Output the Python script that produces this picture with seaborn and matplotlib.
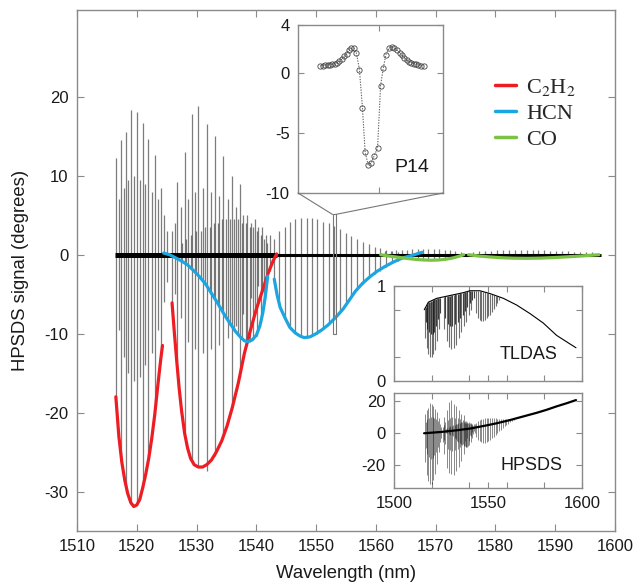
import numpy as np
import matplotlib
matplotlib.use("Agg")
import matplotlib.pyplot as plt
import seaborn as sns
from matplotlib.lines import Line2D
from matplotlib.patches import Rectangle, ConnectionPatch

# ---------------- data ----------------
# C2H2 R-branch lines (position nm, positive peak, negative peak) in degrees
c2h2_r_pos = [1516.5, 1516.95, 1517.4, 1517.8, 1518.2, 1518.6, 1519.0, 1519.5, 1520.0, 1520.5,
              1521.0, 1521.45, 1521.9, 1522.5, 1523.1, 1523.6, 1524.1, 1524.6, 1525.1]
c2h2_r_up = [12.2, 7.0, 14.5, 8.5, 15.6, 9.5, 18.3, 10.0, 18.1, 9.5,
             16.7, 9.0, 14.6, 8.0, 12.6, 7.0, 8.5, 5.0, 3.0]
c2h2_r_dn = [-18.0, -9.5, -26.0, -13.0, -30.0, -15.0, -31.7, -16.0, -31.6, -15.5,
             -29.5, -14.0, -26.0, -12.5, -19.5, -9.5, -12.5, -6.0, -3.5]
# C2H2 P-branch lines
c2h2_p_pos = [1525.9, 1526.35, 1526.7, 1527.35, 1528.0, 1528.6, 1529.2, 1529.75, 1530.3, 1531.0,
              1531.7, 1532.4, 1533.1, 1533.8, 1534.5, 1535.2, 1535.9, 1536.55, 1537.2, 1537.8,
              1538.4, 1539.05, 1539.7, 1540.35, 1541.0, 1541.65, 1542.3]
c2h2_p_up = [3.0, 4.0, 9.2, 6.0, 13.0, 7.0, 17.8, 8.0, 18.9, 8.5,
             16.5, 8.0, 15.0, 7.5, 12.5, 7.0, 10.0, 6.0, 9.0, 5.0,
             5.0, 4.0, 4.5, 3.5, 3.5, 2.5, 2.5]
c2h2_p_dn = [-6.1, -5.0, -13.6, -8.0, -22.5, -11.0, -26.2, -12.0, -26.9, -12.5,
             -27.4, -12.0, -25.5, -11.5, -23.0, -10.5, -19.5, -9.0, -15.5, -7.5,
             -11.2, -5.5, -7.5, -4.0, -4.7, -2.5, -2.0]
# HCN R-branch lines
hcn_r_pos = [1527.5, 1528.3, 1529.0, 1529.9, 1530.7, 1531.4, 1532.2, 1532.9, 1533.6, 1534.2, 1534.9,
             1535.6, 1536.3, 1537.0, 1537.6, 1538.2, 1538.9, 1539.5, 1540.1, 1540.7, 1541.3, 1541.8]
hcn_r_up = [1.5, 2.0, 2.5, 3.0, 3.0, 3.5, 3.5, 4.0, 4.0, 4.5, 4.5,
            4.5, 4.5, 4.5, 4.0, 4.0, 3.5, 3.5, 3.0, 2.5, 2.0, 1.5]
hcn_r_dn = [-0.7, -1.2, -1.6, -2.3, -2.9, -3.6, -4.6, -5.5, -6.4, -7.1, -7.9,
            -8.7, -9.5, -10.2, -10.6, -11.0, -11.0, -10.8, -10.3, -8.5, -6.2, -3.5]
# HCN P-branch lines
hcn_p_pos = [1543.0, 1543.8, 1544.8, 1545.6, 1546.5, 1547.5, 1548.4, 1549.3, 1550.1, 1551.2, 1552.1, 1553.0,
             1554.0, 1555.0, 1555.9, 1556.8, 1557.8, 1558.8, 1559.8, 1560.7, 1561.7, 1562.7, 1563.7]
hcn_p_up = [2.0, 3.0, 3.5, 4.2, 4.5, 4.6, 4.6, 4.6, 4.5, 4.2, 4.0, 3.6,
            3.2, 2.8, 2.4, 2.0, 1.6, 1.3, 1.0, 0.8, 0.6, 0.5, 0.4]
hcn_p_dn = [-3.1, -6.2, -7.9, -9.0, -9.9, -10.4, -10.5, -10.3, -10.0, -9.4, -8.8, -8.0,
            -7.3, -6.3, -5.3, -4.5, -3.7, -3.0, -2.5, -2.0, -1.5, -1.1, -0.8]
# CO lines
co_pos = [1561.5, 1562.5, 1563.4, 1564.3, 1565.2, 1566.1, 1567.0, 1567.9, 1568.8, 1569.7, 1570.6, 1571.5,
          1572.4, 1573.3, 1574.2, 1576.2, 1577.2, 1578.2, 1579.2, 1580.2, 1581.2, 1582.2, 1583.2, 1584.2,
          1585.2, 1586.2, 1587.2, 1588.2, 1589.2, 1590.2, 1591.2, 1592.2, 1593.2, 1594.2, 1595.2, 1596.2]
co_up = [0.5, 0.5, 0.6, 0.6, 0.6, 0.7, 0.7, 0.7, 0.7, 0.7, 0.7, 0.6,
         0.6, 0.5, 0.4, 0.4, 0.5, 0.5, 0.5, 0.6, 0.6, 0.6, 0.6, 0.6,
         0.6, 0.6, 0.6, 0.6, 0.5, 0.5, 0.5, 0.5, 0.4, 0.4, 0.4, 0.3]
co_dn = [-0.2, -0.3, -0.35, -0.4, -0.5, -0.55, -0.6, -0.65, -0.7, -0.7, -0.7, -0.65,
         -0.55, -0.4, -0.2, -0.1, -0.2, -0.25, -0.3, -0.35, -0.4, -0.42, -0.45, -0.47,
         -0.47, -0.47, -0.45, -0.43, -0.4, -0.37, -0.33, -0.28, -0.23, -0.18, -0.12, -0.08]

# baseline of the HPSDS trace (noisy part, then quiet part)
baseline_x = [1516.4, 1543.5, 1597.6]
baseline_y = [0.0, 0.0, 0.0]

# envelope fits
red1_x = [1516.5, 1517.0, 1517.5, 1518.0, 1518.5, 1519.0, 1519.5, 1520.0, 1520.5, 1521.0, 1521.5,
          1522.0, 1522.5, 1523.0, 1523.5, 1524.0, 1524.3]
red1_y = [-18.0, -23.0, -26.3, -28.6, -30.3, -31.4, -31.9, -31.7, -31.0, -29.5, -27.8,
          -25.8, -23.3, -20.3, -16.7, -13.3, -11.5]
red2_x = [1525.9, 1526.3, 1526.7, 1527.1, 1527.5, 1528.0, 1528.5, 1529.0, 1529.6, 1530.3, 1531.0,
          1531.7, 1532.5, 1533.3, 1534.2, 1535.1, 1536.0, 1537.0, 1538.0, 1539.0, 1540.0, 1541.0,
          1542.0, 1542.8, 1543.4]
red2_y = [-6.1, -10.0, -13.6, -17.0, -19.8, -22.6, -24.5, -25.8, -26.6, -26.9, -26.9,
          -26.6, -26.0, -25.0, -23.6, -21.7, -19.3, -16.2, -12.5, -9.6, -6.9, -4.6,
          -2.3, -0.8, 0.1]
blue1_x = [1524.5, 1525.5, 1526.5, 1527.5, 1528.5, 1529.5, 1530.5, 1531.5, 1532.5, 1533.5, 1534.5,
           1535.5, 1536.5, 1537.3, 1538.0, 1538.6, 1539.3, 1540.0, 1540.6, 1541.1, 1541.5, 1541.9]
blue1_y = [0.2, 0.0, -0.4, -0.8, -1.3, -2.0, -2.8, -3.7, -4.9, -6.1, -7.4,
           -8.6, -9.7, -10.4, -10.9, -11.0, -10.8, -10.2, -9.0, -7.3, -5.3, -2.7]
blue2_x = [1543.0, 1543.5, 1544.0, 1544.8, 1545.6, 1546.5, 1547.3, 1548.0, 1549.0, 1550.0, 1551.0,
           1552.0, 1553.2, 1554.5, 1555.5, 1556.6, 1557.8, 1559.0, 1560.2, 1561.5, 1563.0, 1564.5,
           1566.0, 1567.7]
blue2_y = [-3.1, -5.2, -6.7, -8.0, -9.2, -9.9, -10.3, -10.5, -10.4, -10.0, -9.5,
           -8.9, -8.0, -6.9, -5.8, -4.6, -3.6, -2.8, -2.1, -1.5, -0.9, -0.4,
           -0.1, 0.3]
green1_x = [1560.8, 1562.0, 1563.5, 1565.0, 1566.5, 1568.0, 1569.3, 1570.5, 1571.7, 1572.8, 1573.8, 1574.7]
green1_y = [0.0, -0.15, -0.3, -0.45, -0.58, -0.67, -0.7, -0.67, -0.57, -0.42, -0.22, 0.0]
green2_x = [1575.5, 1577.0, 1579.0, 1581.0, 1583.0, 1585.3, 1587.5, 1589.5, 1591.5, 1593.5, 1595.5, 1597.3]
green2_y = [0.0, -0.15, -0.28, -0.38, -0.44, -0.46, -0.43, -0.37, -0.29, -0.2, -0.1, 0.0]

legend_labels = ["C$_2$H$_2$", "HCN", "CO"]

# P14 zoom box in main axes (x0, x1, y0, y1)
p14_box = [1552.75, 1553.25, -10.1, 5.1]
# P14 line profile (relative scan position, degrees)
p14_x = [75, 82, 89, 96, 103, 110, 117, 124, 131, 138, 146, 153, 159, 166, 174, 182, 191,
         200, 208, 217, 226, 235, 245, 254, 262, 270, 279, 287, 295, 303, 311, 318, 325,
         332, 339, 346, 353, 360, 367, 375, 382]
p14_y = [0.59, 0.62, 0.65, 0.68, 0.70, 0.73, 0.77, 0.84, 0.98, 1.16, 1.38, 1.60, 1.95, 2.06, 2.08, 1.67, 0.28,
         -2.9, -6.6, -7.65, -7.5, -6.9, -6.25, -1.08, 0.4, 1.54, 2.05, 2.16, 2.08, 1.9, 1.7, 1.49, 1.27,
         1.08, 0.95, 0.86, 0.78, 0.73, 0.68, 0.62, 0.57]

# TLDAS inset: transmission envelope and absorption dips
tl_base_x = [1516.1, 1518.3, 1522.7, 1529.8, 1536.9, 1540.4, 1545.7, 1551.1, 1558.2, 1565.2,
             1572.3, 1579.4, 1586.5, 1593.6, 1596.8]
tl_base_y = [0.75, 0.83, 0.87, 0.90, 0.93, 0.95, 0.95, 0.92, 0.87, 0.80,
             0.71, 0.61, 0.48, 0.39, 0.35]
tl_pos = [1516.5, 1517.4, 1518.2, 1519.0, 1520.0, 1521.0, 1521.9, 1523.1, 1524.1, 1526.7, 1528.0, 1529.2,
          1530.3, 1531.7, 1533.1, 1534.5, 1535.9, 1537.2, 1538.4, 1539.7, 1541.0, 1543.8, 1544.8, 1545.6,
          1546.5, 1547.5, 1548.4, 1549.3, 1550.1, 1551.2, 1552.1, 1553.0, 1554.0, 1555.0, 1555.9]
tl_min = [0.45, 0.35, 0.28, 0.25, 0.25, 0.28, 0.33, 0.42, 0.55, 0.55, 0.42, 0.36,
          0.34, 0.35, 0.38, 0.45, 0.52, 0.58, 0.62, 0.70, 0.75, 0.72, 0.66, 0.64,
          0.63, 0.63, 0.64, 0.66, 0.68, 0.70, 0.73, 0.76, 0.79, 0.82, 0.85]
tlw_pos = [1516.95, 1517.8, 1518.6, 1519.5, 1520.5, 1521.45, 1522.5, 1523.6, 1524.6, 1527.35, 1528.6,
           1529.75, 1531.0, 1532.4, 1533.8, 1535.2, 1536.55, 1537.8, 1539.05, 1540.35, 1541.65, 1542.3]
tlw_min = [0.62, 0.55, 0.52, 0.5, 0.5, 0.52, 0.58, 0.65, 0.72, 0.66, 0.6,
           0.58, 0.58, 0.6, 0.62, 0.66, 0.7, 0.74, 0.78, 0.82, 0.85, 0.87]

# HPSDS inset: raw signal baseline drift (degrees)
hp_base_x = [1516.0, 1525.0, 1533.0, 1540.4, 1549.3, 1555.0, 1561.7, 1568.0, 1575.9, 1581.0, 1586.5, 1592.0, 1596.8]
hp_base_y = [0.0, 0.8, 1.8, 2.9, 4.9, 6.3, 8.2, 10.2, 12.7, 14.5, 16.7, 18.7, 20.6]

# ---------------- style ----------------
sns.set_theme(style="white")
plt.rcParams["font.family"] = ["Liberation Sans", "DejaVu Sans"]
plt.rcParams["axes.unicode_minus"] = False
plt.rcParams["mathtext.fontset"] = "stix"

RED, BLUE, GREEN = "#ee1d23", "#1ba6e1", "#7cc244"
SPINE = "#8a8a8a"
TXT = "#1a1a1a"
W, H = 643, 588
fig = plt.figure(figsize=(W / 100, H / 100), dpi=100)


def ax_px(l, t, r, b):
    return fig.add_axes([l / W, 1 - b / H, (r - l) / W, (b - t) / H])


def style(a, size=12, length=5):
    for s in a.spines.values():
        s.set_color(SPINE)
        s.set_linewidth(1.0)
    a.tick_params(which="both", direction="in", length=length, width=0.8, color=SPINE,
                  top=True, right=True, bottom=True, left=True,
                  labelsize=size, labelcolor=TXT, pad=6)
    a.set_facecolor("white")


# ---------------- main axes ----------------
ax = ax_px(77, 10, 615, 531)
line_kw = dict(color="#111111", lw=0.9, alpha=0.55, zorder=2)
for pos, up, dn in [(c2h2_r_pos, c2h2_r_up, c2h2_r_dn), (c2h2_p_pos, c2h2_p_up, c2h2_p_dn),
                    (hcn_r_pos, hcn_r_up, hcn_r_dn), (hcn_p_pos, hcn_p_up, hcn_p_dn),
                    (co_pos, co_up, co_dn)]:
    ax.vlines(pos, dn, up, **line_kw)

ax.plot(baseline_x[:2], baseline_y[:2], color="black", lw=3.6, zorder=3, solid_capstyle="butt")
ax.plot(baseline_x[1:], baseline_y[1:], color="black", lw=2.2, zorder=3, solid_capstyle="butt")

for xs, ys, c in [(red1_x, red1_y, RED), (red2_x, red2_y, RED), (blue1_x, blue1_y, BLUE),
                  (blue2_x, blue2_y, BLUE), (green1_x, green1_y, GREEN), (green2_x, green2_y, GREEN)]:
    sns.lineplot(x=xs, y=ys, ax=ax, color=c, lw=2.3, sort=False, estimator=None, zorder=4)

ax.add_patch(Rectangle((p14_box[0], p14_box[2]), p14_box[1] - p14_box[0], p14_box[3] - p14_box[2],
                       fill=False, ec="#777777", lw=0.8, zorder=5))

ax.set_xlim(1510, 1600)
ax.set_ylim(-35, 31)
ax.set_xticks(np.arange(1510, 1601, 10))
ax.set_yticks([-30, -20, -10, 0, 10, 20])
style(ax, 12, 5)
ax.set_xlabel("Wavelength (nm)", fontsize=13.3, color=TXT, labelpad=8)
ax.set_ylabel("HPSDS signal (degrees)", fontsize=13.3, color=TXT, labelpad=11)

handles = [Line2D([0], [0], color=c, lw=2.5) for c in (RED, BLUE, GREEN)]
ax.legend(handles, legend_labels, loc="upper left", bbox_to_anchor=(495 / W, 1 - 77 / H),
          bbox_transform=fig.transFigure, frameon=False,
          prop={"family": "Liberation Serif", "size": 16},
          handlelength=0.95, handletextpad=0.45, labelspacing=0.25, borderpad=0, borderaxespad=0)

# ---------------- P14 inset ----------------
ax2 = ax_px(298, 25, 443, 193)
ax2.plot(p14_x, p14_y, ls=(0, (1.2, 1.2)), color="#666666", lw=0.8,
         marker="o", mfc="none", mec="#444444", ms=3.8, mew=0.6)
ax2.set_xlim(8, 440)
ax2.set_ylim(-10, 4)
ax2.set_xticks([250])
ax2.set_xticklabels([])
ax2.set_yticks([-10, -5, 0, 4])
style(ax2, 12, 4)
ax2.text(0.786, 0.15, "P14", transform=ax2.transAxes, fontsize=14, color=TXT,
         ha="center", va="center")
for xa, xd in [(0, p14_box[0]), (1, p14_box[1])]:
    con = ConnectionPatch(xyA=(xa, 0), coordsA=ax2.transAxes, xyB=(xd, p14_box[3]),
                          coordsB=ax.transData, color="#777777", lw=0.8)
    fig.add_artist(con)

# ---------------- TLDAS inset ----------------
ax3 = ax_px(394, 286, 582, 381)
ax3.plot(tl_base_x, tl_base_y, color="black", lw=0.8)
ax3.vlines(tl_pos, tl_min, np.interp(tl_pos, tl_base_x, tl_base_y), color="#111111", lw=0.8, alpha=0.6)
ax3.vlines(tlw_pos, tlw_min, np.interp(tlw_pos, tl_base_x, tl_base_y), color="#111111", lw=0.8, alpha=0.8)
ax3.set_xlim(1500, 1600)
ax3.set_ylim(0, 1)
ax3.set_xticks([1500, 1550, 1600])
ax3.set_xticks([1520, 1540, 1560, 1580], minor=True)
ax3.set_xticklabels([])
ax3.set_yticks([0, 1])
ax3.set_yticks([0.25, 0.75], minor=True)
style(ax3, 12, 4)
ax3.text(0.718, 0.28, "TLDAS", transform=ax3.transAxes, fontsize=13, color=TXT,
         ha="center", va="center")

# ---------------- HPSDS inset ----------------
ax4 = ax_px(394, 393, 582, 488)
for pos, up, dn in [(c2h2_r_pos, c2h2_r_up, c2h2_r_dn), (c2h2_p_pos, c2h2_p_up, c2h2_p_dn),
                    (hcn_r_pos, hcn_r_up, hcn_r_dn), (hcn_p_pos, hcn_p_up, hcn_p_dn)]:
    b = np.interp(pos, hp_base_x, hp_base_y)
    ax4.vlines(pos, b + np.array(dn), b + np.array(up), color="#111111", lw=0.7, alpha=0.5)
ax4.plot(hp_base_x, hp_base_y, color="black", lw=1.6)
ax4.set_xlim(1500, 1600)
ax4.set_ylim(-34, 25)
ax4.set_xticks([1500, 1550, 1600])
ax4.set_xticks([1520, 1540, 1560, 1580], minor=True)
ax4.set_yticks([-20, 0, 20])
style(ax4, 12, 4)
ax4.text(0.732, 0.24, "HPSDS", transform=ax4.transAxes, fontsize=13, color=TXT,
         ha="center", va="center")

fig.savefig("out.png", dpi=100, facecolor="white")
